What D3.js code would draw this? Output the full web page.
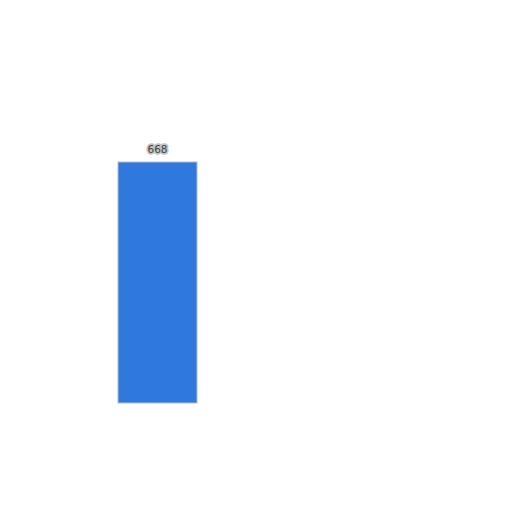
<!DOCTYPE html>
<html><head><meta charset="utf-8">
<script src="https://cdn.jsdelivr.net/npm/d3@7/dist/d3.min.js"></script>
<style>html,body{margin:0;padding:0;background:#fff;}</style>
</head><body>
<svg id="c" width="512" height="512"></svg>
<script>
const categories = ["A"];
const values = [668];

const svg = d3.select("#c");
const x = d3.scaleBand().domain(categories).range([118, 197]).padding(0);
const y = d3.scaleLinear().domain([0, 668]).range([403, 162]);

svg.selectAll("rect.bar").data(values).join("rect")
  .attr("class", "bar")
  .attr("x", (d, i) => x(categories[i]))
  .attr("y", d => y(d))
  .attr("width", x.bandwidth())
  .attr("height", d => y(0) - y(d))
  .attr("fill", "#2f78de")
  .attr("stroke", "#b8bcc4")
  .attr("stroke-width", 1);

svg.selectAll("text.lbl").data(values).join("text")
  .attr("class", "lbl")
  .attr("x", (d, i) => x(categories[i]) + x.bandwidth() / 2)
  .attr("y", d => y(d) - 9)
  .attr("text-anchor", "middle")
  .attr("font-family", "DejaVu Sans, sans-serif")
  .attr("font-size", 10.5)
  .attr("fill", "#444")
  .attr("stroke", "#c4c4c4")
  .attr("stroke-width", 3.5)
  .attr("stroke-linejoin", "round")
  .attr("paint-order", "stroke")
  .text(d => d);
</script>
</body></html>
